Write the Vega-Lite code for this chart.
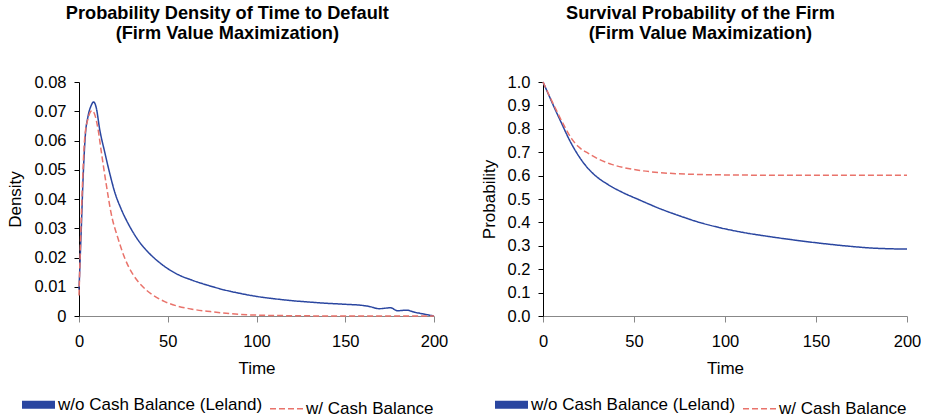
{
  "$schema": "https://vega.github.io/schema/vega-lite/v6.json",
  "background": "white",
  "padding": {"left": 6, "top": 4, "right": 0, "bottom": 0},
  "spacing": 32,
  "config": {
    "view": {"stroke": null},
    "font": "Liberation Sans",
    "axis": {
      "labelFont": "Liberation Sans", "titleFont": "Liberation Sans",
      "labelFontSize": 16.5, "titleFontSize": 17, "titleFontWeight": "normal",
      "labelColor": "#000", "titleColor": "#000", "grid": false,
      "domainColor": "#000", "tickColor": "#000", "domainWidth": 1, "tickWidth": 1
    },
    "axisX": {"domainColor": "#888", "tickColor": "#888", "tickSize": 6, "labelPadding": 11, "titlePadding": 11, "labelFlush": false},
    "axisY": {"tickSize": 5, "labelPadding": 8, "titlePadding": 9},
    "title": {"font": "Liberation Sans", "fontSize": 18.2, "fontWeight": "bold", "color": "#000", "lineHeight": 19.5, "frame": "bounds", "anchor": "middle", "offset": 31}
  },
  "datasets": {
    "density": [
      {"t": 0, "v": 0.009, "s": "w/o Cash Balance (Leland)"},
      {"t": 1.3, "v": 0.030, "s": "w/o Cash Balance (Leland)"},
      {"t": 2.3, "v": 0.047, "s": "w/o Cash Balance (Leland)"},
      {"t": 3.6, "v": 0.062, "s": "w/o Cash Balance (Leland)"},
      {"t": 5, "v": 0.068, "s": "w/o Cash Balance (Leland)"},
      {"t": 6.9, "v": 0.072, "s": "w/o Cash Balance (Leland)"},
      {"t": 8.2, "v": 0.0732, "s": "w/o Cash Balance (Leland)"},
      {"t": 9.8, "v": 0.071, "s": "w/o Cash Balance (Leland)"},
      {"t": 11.6, "v": 0.064, "s": "w/o Cash Balance (Leland)"},
      {"t": 14.5, "v": 0.056, "s": "w/o Cash Balance (Leland)"},
      {"t": 17.3, "v": 0.0488, "s": "w/o Cash Balance (Leland)"},
      {"t": 20, "v": 0.0426, "s": "w/o Cash Balance (Leland)"},
      {"t": 23.8, "v": 0.0365, "s": "w/o Cash Balance (Leland)"},
      {"t": 27.6, "v": 0.0317, "s": "w/o Cash Balance (Leland)"},
      {"t": 33, "v": 0.0262, "s": "w/o Cash Balance (Leland)"},
      {"t": 39, "v": 0.0218, "s": "w/o Cash Balance (Leland)"},
      {"t": 44.5, "v": 0.0187, "s": "w/o Cash Balance (Leland)"},
      {"t": 50, "v": 0.0162, "s": "w/o Cash Balance (Leland)"},
      {"t": 56, "v": 0.0141, "s": "w/o Cash Balance (Leland)"},
      {"t": 63, "v": 0.0124, "s": "w/o Cash Balance (Leland)"},
      {"t": 72, "v": 0.0106, "s": "w/o Cash Balance (Leland)"},
      {"t": 82, "v": 0.0089, "s": "w/o Cash Balance (Leland)"},
      {"t": 91, "v": 0.0077, "s": "w/o Cash Balance (Leland)"},
      {"t": 100, "v": 0.0067, "s": "w/o Cash Balance (Leland)"},
      {"t": 110, "v": 0.0059, "s": "w/o Cash Balance (Leland)"},
      {"t": 119, "v": 0.0053, "s": "w/o Cash Balance (Leland)"},
      {"t": 129, "v": 0.0048, "s": "w/o Cash Balance (Leland)"},
      {"t": 138, "v": 0.0044, "s": "w/o Cash Balance (Leland)"},
      {"t": 150, "v": 0.0040, "s": "w/o Cash Balance (Leland)"},
      {"t": 160, "v": 0.0036, "s": "w/o Cash Balance (Leland)"},
      {"t": 164, "v": 0.0032, "s": "w/o Cash Balance (Leland)"},
      {"t": 169, "v": 0.0025, "s": "w/o Cash Balance (Leland)"},
      {"t": 175.5, "v": 0.0028, "s": "w/o Cash Balance (Leland)"},
      {"t": 179.5, "v": 0.0018, "s": "w/o Cash Balance (Leland)"},
      {"t": 184.5, "v": 0.0020, "s": "w/o Cash Balance (Leland)"},
      {"t": 189, "v": 0.0013, "s": "w/o Cash Balance (Leland)"},
      {"t": 194, "v": 0.0007, "s": "w/o Cash Balance (Leland)"},
      {"t": 200, "v": 0, "s": "w/o Cash Balance (Leland)"},
      {"t": 0, "v": 0.007, "s": "w/ Cash Balance"},
      {"t": 1.7, "v": 0.041, "s": "w/ Cash Balance"},
      {"t": 3.2, "v": 0.0607, "s": "w/ Cash Balance"},
      {"t": 5.1, "v": 0.0675, "s": "w/ Cash Balance"},
      {"t": 7.3, "v": 0.0702, "s": "w/ Cash Balance"},
      {"t": 8.8, "v": 0.069, "s": "w/ Cash Balance"},
      {"t": 10.7, "v": 0.064, "s": "w/ Cash Balance"},
      {"t": 12.6, "v": 0.056, "s": "w/ Cash Balance"},
      {"t": 15.4, "v": 0.0448, "s": "w/ Cash Balance"},
      {"t": 18.2, "v": 0.0348, "s": "w/ Cash Balance"},
      {"t": 22, "v": 0.0265, "s": "w/ Cash Balance"},
      {"t": 25.7, "v": 0.0199, "s": "w/ Cash Balance"},
      {"t": 30.4, "v": 0.0142, "s": "w/ Cash Balance"},
      {"t": 35, "v": 0.0106, "s": "w/ Cash Balance"},
      {"t": 41, "v": 0.0074, "s": "w/ Cash Balance"},
      {"t": 48, "v": 0.0050, "s": "w/ Cash Balance"},
      {"t": 56, "v": 0.0033, "s": "w/ Cash Balance"},
      {"t": 63, "v": 0.0024, "s": "w/ Cash Balance"},
      {"t": 74, "v": 0.0015, "s": "w/ Cash Balance"},
      {"t": 85, "v": 0.0008, "s": "w/ Cash Balance"},
      {"t": 100, "v": 0.0003, "s": "w/ Cash Balance"},
      {"t": 120, "v": 0.0001, "s": "w/ Cash Balance"},
      {"t": 150, "v": 0, "s": "w/ Cash Balance"},
      {"t": 200, "v": 0, "s": "w/ Cash Balance"}
    ],
    "survival": [
      {"t": 0, "v": 1.0, "s": "w/o Cash Balance (Leland)"},
      {"t": 2.9, "v": 0.949, "s": "w/o Cash Balance (Leland)"},
      {"t": 6.6, "v": 0.884, "s": "w/o Cash Balance (Leland)"},
      {"t": 10.3, "v": 0.822, "s": "w/o Cash Balance (Leland)"},
      {"t": 13.9, "v": 0.762, "s": "w/o Cash Balance (Leland)"},
      {"t": 17.6, "v": 0.709, "s": "w/o Cash Balance (Leland)"},
      {"t": 23.1, "v": 0.646, "s": "w/o Cash Balance (Leland)"},
      {"t": 28.6, "v": 0.601, "s": "w/o Cash Balance (Leland)"},
      {"t": 35.9, "v": 0.561, "s": "w/o Cash Balance (Leland)"},
      {"t": 43.2, "v": 0.530, "s": "w/o Cash Balance (Leland)"},
      {"t": 52.4, "v": 0.498, "s": "w/o Cash Balance (Leland)"},
      {"t": 64.5, "v": 0.458, "s": "w/o Cash Balance (Leland)"},
      {"t": 75.4, "v": 0.427, "s": "w/o Cash Balance (Leland)"},
      {"t": 86.4, "v": 0.399, "s": "w/o Cash Balance (Leland)"},
      {"t": 97.4, "v": 0.377, "s": "w/o Cash Balance (Leland)"},
      {"t": 110, "v": 0.357, "s": "w/o Cash Balance (Leland)"},
      {"t": 123, "v": 0.341, "s": "w/o Cash Balance (Leland)"},
      {"t": 137.7, "v": 0.325, "s": "w/o Cash Balance (Leland)"},
      {"t": 152.3, "v": 0.311, "s": "w/o Cash Balance (Leland)"},
      {"t": 167, "v": 0.299, "s": "w/o Cash Balance (Leland)"},
      {"t": 181.6, "v": 0.290, "s": "w/o Cash Balance (Leland)"},
      {"t": 200, "v": 0.286, "s": "w/o Cash Balance (Leland)"},
      {"t": 0, "v": 1.0, "s": "w/ Cash Balance"},
      {"t": 6.6, "v": 0.891, "s": "w/ Cash Balance"},
      {"t": 12.1, "v": 0.806, "s": "w/ Cash Balance"},
      {"t": 15.8, "v": 0.757, "s": "w/ Cash Balance"},
      {"t": 19.4, "v": 0.724, "s": "w/ Cash Balance"},
      {"t": 24.9, "v": 0.695, "s": "w/ Cash Balance"},
      {"t": 30.4, "v": 0.671, "s": "w/ Cash Balance"},
      {"t": 37.7, "v": 0.648, "s": "w/ Cash Balance"},
      {"t": 45.1, "v": 0.633, "s": "w/ Cash Balance"},
      {"t": 52.4, "v": 0.623, "s": "w/ Cash Balance"},
      {"t": 59.7, "v": 0.616, "s": "w/ Cash Balance"},
      {"t": 68.9, "v": 0.610, "s": "w/ Cash Balance"},
      {"t": 80, "v": 0.606, "s": "w/ Cash Balance"},
      {"t": 100, "v": 0.603, "s": "w/ Cash Balance"},
      {"t": 150, "v": 0.601, "s": "w/ Cash Balance"},
      {"t": 200, "v": 0.601, "s": "w/ Cash Balance"}
    ]
  },
  "resolve": {"legend": {"color": "independent", "strokeDash": "independent"}, "scale": {"x": "independent", "y": "independent"}},
  "hconcat": [
    {
      "width": 355, "height": 234,
      "title": {"text": ["Probability Density of Time to Default", "(Firm Value Maximization)"]},
      "data": {"name": "density"},
      "mark": {"type": "line", "strokeWidth": 1.5, "interpolate": "monotone"},
      "encoding": {
        "x": {"field": "t", "type": "quantitative", "scale": {"domain": [0, 200], "nice": false}, "axis": {"values": [0, 50, 100, 150, 200], "title": "Time", "format": "d"}},
        "y": {"field": "v", "type": "quantitative", "scale": {"domain": [0, 0.08], "nice": false}, "axis": {"values": [0, 0.01, 0.02, 0.03, 0.04, 0.05, 0.06, 0.07, 0.08], "title": "Density", "labelExpr": "datum.value === 0 ? '0' : format(datum.value, '.2f')"}},
        "color": {"field": "s", "type": "nominal", "sort": ["w/o Cash Balance (Leland)", "w/ Cash Balance"], "scale": {"domain": ["w/o Cash Balance (Leland)", "w/ Cash Balance"], "range": ["#2a46a0", "#e9736b"]},
          "legend": {"title": null, "orient": "none", "legendX": -49, "legendY": 314, "direction": "horizontal", "symbolType": "stroke", "symbolSize": 1089, "symbolStrokeWidth": 1.5, "labelFontSize": 17, "labelFont": "Liberation Sans", "labelColor": "#000", "columnPadding": 4, "labelOffset": 11, "padding": 0, "labelLimit": 400,
            "encode": {"symbols": {"update": {"strokeWidth": {"signal": "datum.value === 'w/o Cash Balance (Leland)' ? 8 : 1.5"}}}}}},
        "strokeDash": {"field": "s", "type": "nominal", "sort": ["w/o Cash Balance (Leland)", "w/ Cash Balance"], "scale": {"domain": ["w/o Cash Balance (Leland)", "w/ Cash Balance"], "range": [[1, 0], [6, 3]]},
          "legend": {"title": null, "orient": "none", "legendX": -49, "legendY": 314, "direction": "horizontal", "symbolType": "stroke", "symbolSize": 1089, "symbolStrokeWidth": 1.5, "labelFontSize": 17, "labelFont": "Liberation Sans", "labelColor": "#000", "columnPadding": 4, "labelOffset": 11, "padding": 0, "labelLimit": 400,
            "encode": {"symbols": {"update": {"strokeWidth": {"signal": "datum.value === 'w/o Cash Balance (Leland)' ? 8 : 1.5"}}}}}}
      }
    },
    {
      "width": 364, "height": 234,
      "title": {"text": ["Survival Probability of the Firm", "(Firm Value Maximization)"]},
      "data": {"name": "survival"},
      "mark": {"type": "line", "strokeWidth": 1.5, "interpolate": "monotone"},
      "encoding": {
        "x": {"field": "t", "type": "quantitative", "scale": {"domain": [0, 200], "nice": false}, "axis": {"values": [0, 50, 100, 150, 200], "title": "Time", "format": "d"}},
        "y": {"field": "v", "type": "quantitative", "scale": {"domain": [0, 1], "nice": false}, "axis": {"values": [0, 0.1, 0.2, 0.3, 0.4, 0.5, 0.6, 0.7, 0.8, 0.9, 1.0], "title": "Probability", "format": ".1f"}},
        "color": {"field": "s", "type": "nominal", "sort": ["w/o Cash Balance (Leland)", "w/ Cash Balance"], "scale": {"domain": ["w/o Cash Balance (Leland)", "w/ Cash Balance"], "range": ["#2a46a0", "#e9736b"]},
          "legend": {"title": null, "orient": "none", "legendX": -40, "legendY": 314, "direction": "horizontal", "symbolType": "stroke", "symbolSize": 1089, "symbolStrokeWidth": 1.5, "labelFontSize": 17, "labelFont": "Liberation Sans", "labelColor": "#000", "columnPadding": 4, "labelOffset": 11, "padding": 0, "labelLimit": 400,
            "encode": {"symbols": {"update": {"strokeWidth": {"signal": "datum.value === 'w/o Cash Balance (Leland)' ? 8 : 1.5"}}}}}},
        "strokeDash": {"field": "s", "type": "nominal", "sort": ["w/o Cash Balance (Leland)", "w/ Cash Balance"], "scale": {"domain": ["w/o Cash Balance (Leland)", "w/ Cash Balance"], "range": [[1, 0], [6, 3]]},
          "legend": {"title": null, "orient": "none", "legendX": -40, "legendY": 314, "direction": "horizontal", "symbolType": "stroke", "symbolSize": 1089, "symbolStrokeWidth": 1.5, "labelFontSize": 17, "labelFont": "Liberation Sans", "labelColor": "#000", "columnPadding": 4, "labelOffset": 11, "padding": 0, "labelLimit": 400,
            "encode": {"symbols": {"update": {"strokeWidth": {"signal": "datum.value === 'w/o Cash Balance (Leland)' ? 8 : 1.5"}}}}}}
      }
    }
  ]
}
